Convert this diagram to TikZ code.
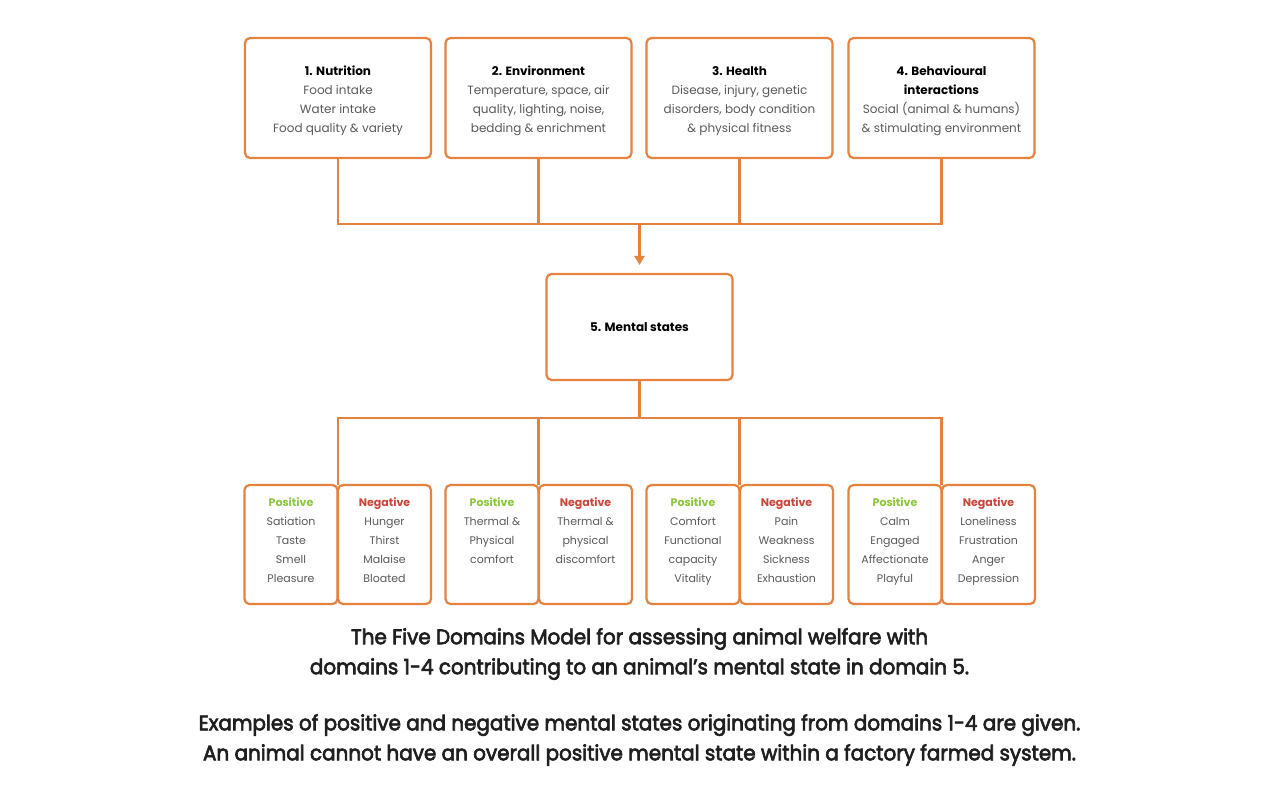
\documentclass[tikz,border=0pt]{standalone}
\usepackage{fontspec}
\setmainfont{Poppins}
\newfontfamily\capfont[FakeStretch=0.95,FakeBold=3]{Poppins}
\usetikzlibrary{arrows.meta}
\definecolor{orng}{HTML}{E5823F}
\definecolor{txtgray}{HTML}{5A5A5A}
\definecolor{posgreen}{HTML}{8CC63E}
\definecolor{negred}{HTML}{C8463A}
\tikzset{
  topbox/.style={draw=orng, line width=2.2pt, rounded corners=5pt, minimum width=186pt, minimum height=120pt, inner sep=0pt},
  pairbox/.style={draw=orng, line width=2.2pt, rounded corners=5pt, minimum width=93pt, minimum height=119pt, inner sep=0pt},
  toptext/.style={align=center, text=txtgray, font=\fontsize{12}{19}\selectfont, inner sep=0pt, execute at begin node=\strut, execute at end node=\strut},
  pairtext/.style={align=center, text=txtgray, font=\fontsize{11}{19}\selectfont, inner sep=0pt, execute at begin node=\strut, execute at end node=\strut},
  conn/.style={draw=orng, line width=2.2pt},
  captext/.style={align=center, text=black!88, font=\capfont\fontsize{21}{30}\selectfont, inner sep=0pt},
}
\newcommand{\ttl}[1]{\textcolor{black}{\bfseries #1}}
\newcommand{\pos}{\textcolor{posgreen}{\bfseries Positive}}
\newcommand{\negt}{\textcolor{negred}{\bfseries Negative}}
\begin{document}
\begin{tikzpicture}[x=1pt,y=-1pt]
\useasboundingbox (0,0) rectangle (1280,800);
\fill[white] (0,0) rectangle (1280,800);
% top boxes
\node[topbox] (t1) at (338,98) {};
\node[topbox] (t2) at (538.5,98) {};
\node[topbox] (t3) at (739.5,98) {};
\node[topbox] (t4) at (941.5,98) {};
\node[toptext, yshift=-4pt] (t1t) at (t1.center) {\ttl{1. Nutrition}\\Food intake\\Water intake\\Food quality \& variety};
\node[toptext, yshift=-4pt] (t2t) at (t2.center) {\ttl{2. Environment}\\Temperature, space, air\\quality, lighting, noise,\\bedding \& enrichment};
\node[toptext, yshift=-4pt] (t3t) at (t3.center) {\ttl{3. Health}\\Disease, injury, genetic\\disorders, body condition\\\& physical fitness};
\node[toptext, yshift=-4pt] (t4t) at (t4.center) {\ttl{4. Behavioural}\\\ttl{interactions}\\Social (animal \& humans)\\\& stimulating environment};
% mental states
\node[topbox, minimum height=106pt, font=\fontsize{12}{19}\selectfont] (m) at (639.5,327) {\ttl{5. Mental states}};
% bottom pairs
\node[pairbox] (p1) at (291,544.5) {};
\node[pairbox] (n1) at (384.5,544.5) {};
\node[pairbox] (p2) at (492,544.5) {};
\node[pairbox] (n2) at (585.5,544.5) {};
\node[pairbox] (p3) at (693,544.5) {};
\node[pairbox] (n3) at (786.5,544.5) {};
\node[pairbox] (p4) at (895,544.5) {};
\node[pairbox] (n4) at (988.5,544.5) {};
\node[pairtext, yshift=1.5pt] (p1t) at (p1.center) {\pos\\Satiation\\Taste\\Smell\\Pleasure};
\node[pairtext, yshift=1.5pt] (n1t) at (n1.center) {\negt\\Hunger\\Thirst\\Malaise\\Bloated};
\node[pairtext, yshift=1.5pt] (p2t) at (p2.center) {\pos\\Thermal \&\\Physical\\comfort\\~};
\node[pairtext, yshift=1.5pt] (n2t) at (n2.center) {\negt\\Thermal \&\\physical\\discomfort\\~};
\node[pairtext, yshift=1.5pt] (p3t) at (p3.center) {\pos\\Comfort\\Functional\\capacity\\Vitality};
\node[pairtext, yshift=1.5pt] (n3t) at (n3.center) {\negt\\Pain\\Weakness\\Sickness\\Exhaustion};
\node[pairtext, yshift=1.5pt] (p4t) at (p4.center) {\pos\\Calm\\Engaged\\Affectionate\\Playful};
\node[pairtext, yshift=1.5pt] (n4t) at (n4.center) {\negt\\Loneliness\\Frustration\\Anger\\Depression};
% connectors top
\coordinate (jt) at (639.5,224);
\draw[conn] (t1.south) |- (jt) -| (t4.south);
\draw[conn] (t2.south) -- (t2.south |- jt);
\draw[conn] (t3.south) -- (t3.south |- jt);
\draw[conn, -{Triangle[length=9pt,width=10pt]}, shorten >=8pt] (jt) -- (m.north);
% connectors bottom
\coordinate (jb) at (639.5,418);
\coordinate (b1) at (338,485);
\coordinate (b2) at (538.5,485);
\coordinate (b3) at (739.5,485);
\coordinate (b4) at (941.5,485);
\draw[conn] (m.south) -- (jb);
\draw[conn] (b1) |- (jb) -| (b4);
\draw[conn] (b2) -- (b2 |- jb);
\draw[conn] (b3) -- (b3 |- jb);
% captions
\node[captext] (c1) at (639.5,654) {The Five Domains Model for assessing animal welfare with\\domains 1-4 contributing to an animal’s mental state in domain 5.};
\node[captext] (c2) at (639.5,740) {Examples of positive and negative mental states originating from domains 1-4 are given.\\An animal cannot have an overall positive mental state within a factory farmed system.};
\end{tikzpicture}
\end{document}
